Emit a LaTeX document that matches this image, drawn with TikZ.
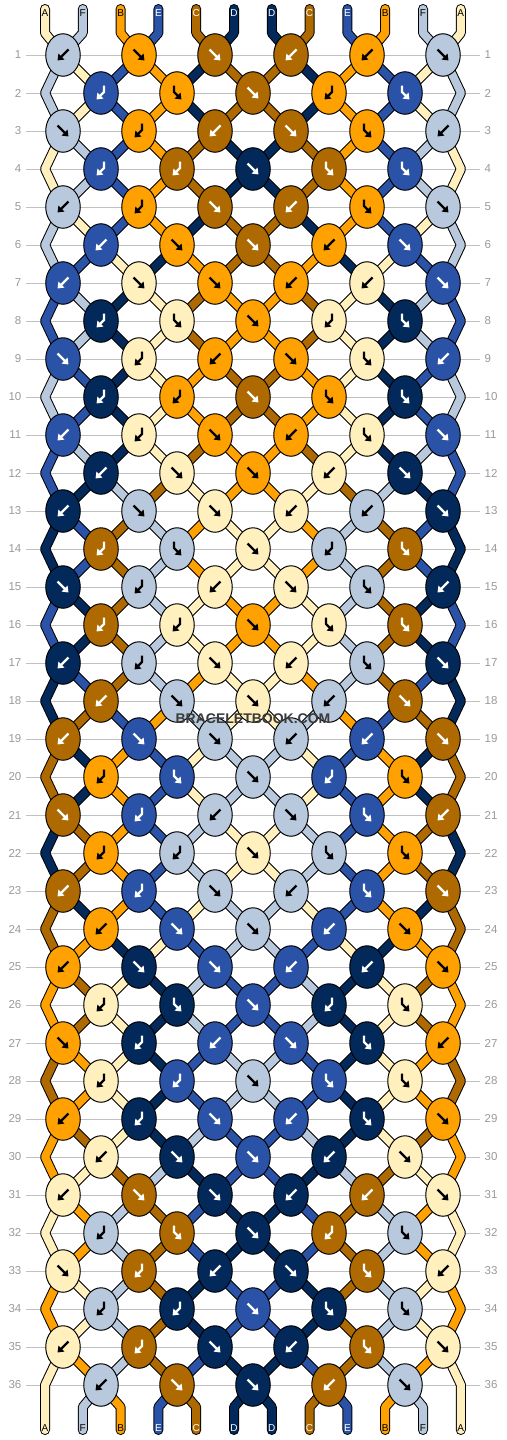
\documentclass[tikz,border=0pt]{standalone}
\usepackage{fontspec}
\setmainfont{Liberation Sans}
\usetikzlibrary{shapes.geometric,arrows.meta}
\definecolor{cA}{HTML}{FFF0BE}
\definecolor{cF}{HTML}{B8C9DD}
\definecolor{cB}{HTML}{FFA100}
\definecolor{cE}{HTML}{2A53A7}
\definecolor{cC}{HTML}{AE6A00}
\definecolor{cD}{HTML}{03295A}
\colorlet{aA}{black}\colorlet{aF}{black}\colorlet{aB}{black}
\colorlet{aE}{white}\colorlet{aC}{white}\colorlet{aD}{white}
\definecolor{rulegray}{HTML}{C0C0C0}
\definecolor{numgray}{HTML}{9A9A9A}
\definecolor{wmgray}{HTML}{3A3A3A}
\pgfdeclarelayer{rules}
\pgfdeclarelayer{strings}
\pgfsetlayers{rules,strings,main}
\newcommand\setcol[2]{\expandafter\xdef\csname col#1\endcsname{#2}}
\newcommand\getcol[1]{\csname col#1\endcsname}
\newcommand\setlp[2]{\expandafter\xdef\csname lp#1\endcsname{#2}}
\newcommand\drawicon[3]{%
  \ifcase#2 \or
    \draw[icon, draw=a#3] ([shift={(-5.5,-5.5)}]#1.center) -- ([shift={(5.5,5.5)}]#1.center);
  \or
    \draw[icon, draw=a#3] ([shift={(5.5,-5.5)}]#1.center) -- ([shift={(-5.5,5.5)}]#1.center);
  \or
    \draw[icon, draw=a#3] ([shift={(-3,-7.5)}]#1.center) -- ([shift={(-3,-1)}]#1.center) -- ([shift={(4.5,6.5)}]#1.center);
  \or
    \draw[icon, draw=a#3] ([shift={(3,-7.5)}]#1.center) -- ([shift={(3,-1)}]#1.center) -- ([shift={(-4.5,6.5)}]#1.center);
  \fi}
\tikzset{
  knot/.style={ellipse, draw=black, line width=1pt, minimum width=34.5pt, minimum height=42.5pt, inner sep=0pt},
  strout/.style={line width=10pt, draw=black, line join=bevel, line cap=round},
  strfill/.style={line width=8pt, line join=bevel, line cap=round},
  icon/.style={line width=2.4pt, -{Triangle[length=5.5pt,width=8pt]}, line join=miter},
  rowrule/.style={draw=rulegray, line width=1pt},
  rownum/.style={text=numgray, inner sep=0pt, font=\fontsize{11.5}{11.5}\selectfont},
  letter/.style={inner sep=0pt, font=\fontsize{10}{10}\selectfont}
}
\begin{document}
\begin{tikzpicture}[x=1pt,y=-1pt]
\useasboundingbox (0,0) rectangle (506,1440);
\begin{pgfonlayer}{rules}
  \fill[white] (0,0) rectangle (506,1440);
\end{pgfonlayer}
% row rules and numbers
\foreach \rw in {1,...,36}{
  \pgfmathsetmacro\yy{55+38*(\rw-1)}
  \node[rownum, anchor=east] (nl-\rw) at (21.5,\yy) {\rw};
  \node[rownum, anchor=west] (nr-\rw) at (484.5,\yy) {\rw};
  \coordinate (ra-\rw) at (26,\yy);
  \coordinate (rb-\rw) at (480,\yy);
  \begin{pgfonlayer}{rules}
    \draw[rowrule] (ra-\rw) -- (rb-\rw);
  \end{pgfonlayer}
}
% top ends
\foreach \s [count=\ii] in {A,F,B,E,C,D,D,C,E,B,F,A}{
  \pgfmathsetmacro\xx{45+37.8*(\ii-1)}
  \coordinate (ts-\ii) at (\xx,9);
  \coordinate (tb-\ii) at (\xx,33);
  \setcol{\ii}{\s}
  \setlp{\ii}{(ts-\ii) -- (tb-\ii)}
  \node[letter, text=a\s] (tl-\ii) at (\xx,13) {\s};
}
% knots
\foreach \rw in {1,...,36}{
  \pgfmathsetmacro\yy{55+38*(\rw-1)}
  \pgfmathtruncatemacro\mm{mod(\rw,6)}
  \pgfmathtruncatemacro\odd{mod(\rw,2)}
  \ifcase\mm \xdef\tlist{2,1,1,2,1}\or \xdef\tlist{2,1,1,2,2,1}\or \xdef\tlist{4,3,1,4,3}\or \xdef\tlist{1,4,2,1,3,2}\or \xdef\tlist{4,4,1,3,3}\or \xdef\tlist{2,4,1,2,3,1}\fi
  \ifnum\odd=0
    \coordinate (eL-\rw) at (45,\yy);
    \coordinate (eR-\rw) at (461,\yy);
    \setlp{1}{\csname lp1\endcsname -- (eL-\rw)}
    \setlp{12}{\csname lp12\endcsname -- (eR-\rw)}
  \fi
  \foreach \ty [count=\kn] in \tlist {
    \pgfmathtruncatemacro\sL{\odd==1 ? 2*\kn-1 : 2*\kn}
    \pgfmathtruncatemacro\sR{\sL+1}
    \pgfmathsetmacro\xx{63+38*(\sL-1)}
    \edef\colL{\getcol{\sL}}
    \edef\colR{\getcol{\sR}}
    \ifnum\ty=1 \edef\colK{\colL}\fi
    \ifnum\ty=3 \edef\colK{\colL}\fi
    \ifnum\ty=2 \edef\colK{\colR}\fi
    \ifnum\ty=4 \edef\colK{\colR}\fi
    \node[knot, fill=c\colK] (k-\rw-\kn) at (\xx,\yy) {};
    \drawicon{k-\rw-\kn}{\ty}{\colK}
    \begin{pgfonlayer}{strings}
      \edef\tmp{\noexpand\draw[strout] \csname lp\sL\endcsname -- (k-\rw-\kn.center);
        \noexpand\draw[strfill, draw=c\colL] \csname lp\sL\endcsname -- (k-\rw-\kn.center);
        \noexpand\draw[strout] \csname lp\sR\endcsname -- (k-\rw-\kn.center);
        \noexpand\draw[strfill, draw=c\colR] \csname lp\sR\endcsname -- (k-\rw-\kn.center);}
      \tmp
    \end{pgfonlayer}
    \setlp{\sL}{(k-\rw-\kn.center)}
    \setlp{\sR}{(k-\rw-\kn.center)}
    \ifnum\ty<3 \setcol{\sL}{\colR}\setcol{\sR}{\colL}\fi
  }
}
% bottom ends
\foreach \ii in {1,...,12}{
  \pgfmathsetmacro\xx{45+37.8*(\ii-1)}
  \coordinate (bb-\ii) at (\xx,1407);
  \coordinate (bs-\ii) at (\xx,1430);
  \edef\cc{\getcol{\ii}}
  \begin{pgfonlayer}{strings}
    \edef\tmp{\noexpand\draw[strout] \csname lp\ii\endcsname -- (bb-\ii) -- (bs-\ii);
      \noexpand\draw[strfill, draw=c\cc] \csname lp\ii\endcsname -- (bb-\ii) -- (bs-\ii);}
    \tmp
  \end{pgfonlayer}
  \node[letter, text=a\cc] (bl-\ii) at (\xx,1428) {\cc};
}
\node[font=\bfseries\fontsize{14}{14}\selectfont, text=wmgray] (wm) at (253,719) {BRACELETBOOK.COM};
\end{tikzpicture}
\end{document}
